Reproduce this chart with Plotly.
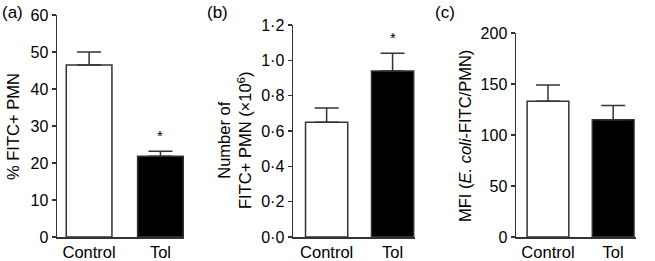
import plotly.graph_objects as go

categories = ["Control", "Tol"]

# (a) % FITC+ PMN
a_values = [46.5, 21.8]
a_errors = [3.5, 1.4]
a_ticks = [0, 10, 20, 30, 40, 50, 60]

# (b) Number of FITC+ PMN (x10^6)
b_values = [0.65, 0.94]
b_errors = [0.08, 0.10]
b_ticks = [0.0, 0.2, 0.4, 0.6, 0.8, 1.0, 1.2]
b_ticklabels = ["0·0", "0·2", "0·4", "0·6", "0·8", "1·0", "1·2"]

# (c) MFI
c_values = [133, 115]
c_errors = [16, 14]
c_ticks = [0, 50, 100, 150, 200]

bar_colors = ["white", "black"]
FONT = "Liberation Sans, Arial, sans-serif"
W, H = 655, 261


def px_x(p):
    return p / W


def px_y(p):
    return (H - p) / H


fig = go.Figure()

panels = [
    dict(vals=a_values, errs=a_errors, ticks=a_ticks, labels=[str(t) for t in a_ticks],
         rng=[0, 60], xd=[57, 184], ytop=15, xr=[-0.45, 1.33], star=[False, True]),
    dict(vals=b_values, errs=b_errors, ticks=b_ticks, labels=b_ticklabels,
         rng=[0, 1.2], xd=[293, 415], ytop=25, xr=[-0.51, 1.34], star=[False, True]),
    dict(vals=c_values, errs=c_errors, ticks=c_ticks, labels=[str(t) for t in c_ticks],
         rng=[0, 200], xd=[516, 636], ytop=33, xr=[-0.49, 1.35], star=[False, False]),
]

ybottom = 237
for i, p in enumerate(panels):
    n = "" if i == 0 else str(i + 1)
    fig.add_trace(go.Bar(
        x=categories, y=p["vals"], xaxis="x" + n, yaxis="y" + n,
        marker=dict(color=bar_colors, line=dict(color="#333333", width=1.5)),
        width=0.64,
        error_y=dict(type="data", array=p["errs"], arrayminus=[0, 0], symmetric=False,
                     color="#333333", thickness=1.5, width=12),
        showlegend=False, hoverinfo="skip",
    ))
    fig.update_layout(**{
        "xaxis" + n: dict(domain=[px_x(p["xd"][0]), px_x(p["xd"][1])], anchor="y" + n,
                          range=p["xr"], showline=True, linecolor="#333333", linewidth=1.5,
                          ticks="", showgrid=False, zeroline=False, automargin=False,
                          tickfont=dict(family=FONT, size=16.5, color="black")),
        "yaxis" + n: dict(domain=[px_y(ybottom), px_y(p["ytop"])], anchor="x" + n,
                          range=p["rng"], showline=True, linecolor="#333333", linewidth=1.5,
                          ticks="outside", ticklen=4, tickwidth=1.5, tickcolor="#333333",
                          tickvals=p["ticks"], ticktext=p["labels"],
                          showgrid=False, zeroline=False, automargin=False,
                          tickfont=dict(family=FONT, size=16, color="black")),
    })
    for j, s in enumerate(p["star"]):
        if s:
            fig.add_annotation(x=categories[j], y=p["vals"][j] + p["errs"][j],
                               xref="x" + n, yref="y" + n, text="*", showarrow=False,
                               yanchor="bottom", yshift=5,
                               font=dict(family=FONT, size=15, color="black"))

# axis titles
for txt, xp, yp in [("% FITC+ PMN", 13, 127),
                    ("Number of<br>FITC+ PMN (×10<sup>6</sup>)", 234, 140),
                    ("MFI (<i>E. coli</i>-FITC/PMN)", 465, 136)]:
    fig.add_annotation(x=px_x(xp), y=px_y(yp), xref="paper", yref="paper",
                       text=txt, textangle=-90, showarrow=False,
                       xanchor="center", yanchor="middle",
                       font=dict(family=FONT, size=16.5, color="black"))

# panel labels
for lbl, xp in [("(a)", 0), ("(b)", 205), ("(c)", 433)]:
    fig.add_annotation(x=px_x(xp), y=px_y(1), xref="paper", yref="paper",
                       text=lbl, showarrow=False, xanchor="left", yanchor="top",
                       font=dict(family=FONT, size=17, color="black"))

fig.update_layout(width=W, height=H, margin=dict(l=0, r=0, t=0, b=0, autoexpand=False),
                  plot_bgcolor="white", paper_bgcolor="white", hovermode=False)

fig.write_html("out.html", config={"displayModeBar": False, "staticPlot": True},
               post_script="document.body.style.margin='0';document.body.style.overflow='hidden';")
